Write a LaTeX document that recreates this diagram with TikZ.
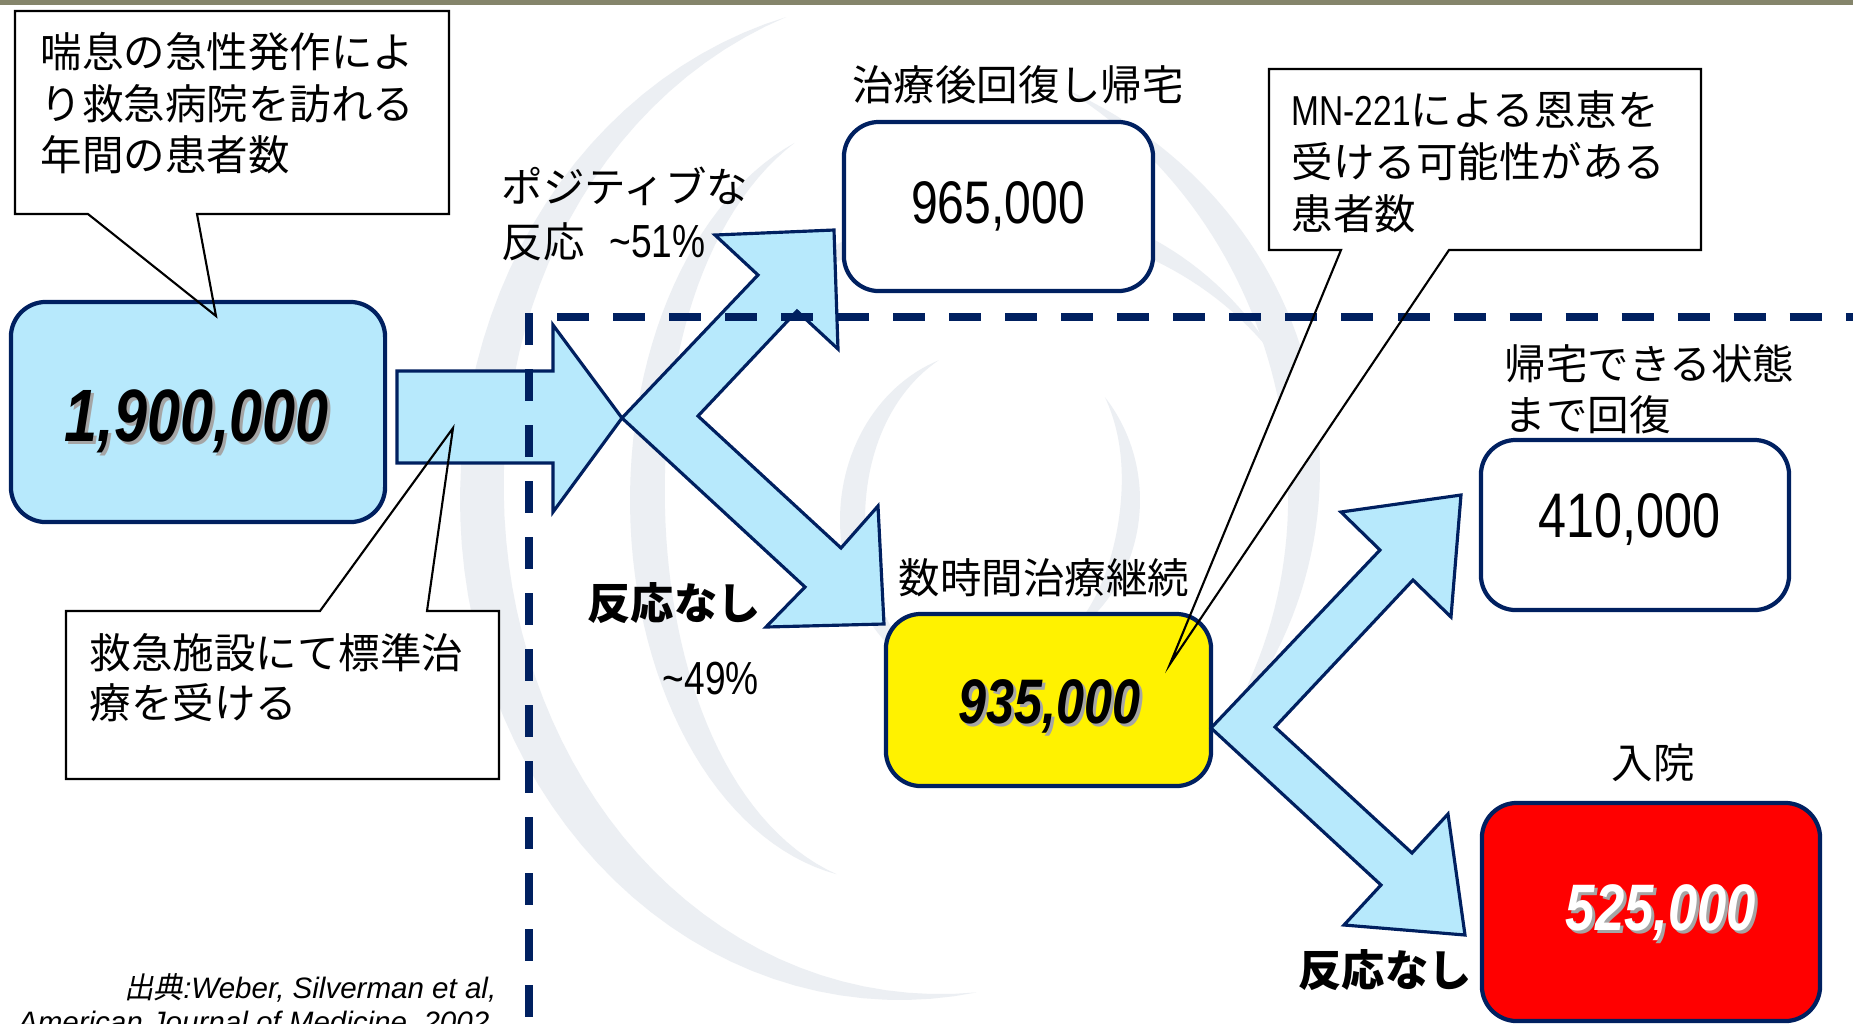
\documentclass[tikz,border=0pt]{standalone}
\usepackage{fontspec}
\setmainfont{Noto Sans CJK JP}
\newfontfamily\numf[FakeStretch=0.8]{Liberation Sans}
\newfontfamily\latf{Liberation Sans}
\newfontfamily\jpslant[FakeSlant=0.2]{Noto Sans CJK JP}
\definecolor{lblue}{RGB}{183,233,252}
\definecolor{navy}{RGB}{0,32,96}
\definecolor{swirl}{RGB}{236,239,243}
\definecolor{topbar}{RGB}{133,133,107}
\definecolor{shadowgrey}{RGB}{165,165,165}
\newcommand\crescent[7]{%
  \fill[swirl] plot[domain=#5:#6, samples=60, variable=\ang] ({#1+#3*cos(\ang)},{#2+#4*sin(\ang)})
   -- plot[domain=#6:#5, samples=60, variable=\ang] ({#1+(#3-#7*sin((\ang-(#5))/((#6)-(#5))*180))*cos(\ang)},{#2+(#4-#7*sin((\ang-(#5))/((#6)-(#5))*180))*sin(\ang)}) -- cycle;}
\tikzset{
  rbox/.style={draw=navy, line width=1.2pt, rounded corners=0.35cm, inner sep=0pt},
  barrow/.style={fill=lblue, draw=navy, line width=0.9pt, line join=miter},
  calloutline/.style={draw=black, line width=0.6pt, line join=miter},
  jt/.style={inner sep=0pt, font=\fontsize{11.8}{14}\selectfont},
  jb/.style={inner sep=0pt, font=\bfseries\fontsize{12.3}{14}\selectfont},
  dashline/.style={draw=navy, line width=2pt, dash pattern=on 0.32cm off 0.24cm},
}
\begin{document}
\begin{tikzpicture}[x=0.01cm, y=-0.01cm]
\clip (0,0) rectangle (1853,1023);
\fill[white] (0,0) rectangle (1853,1023);
\fill[topbar] (0,0) rectangle (1853,5);
% background swirl
\crescent{900}{500}{440}{500}{80}{255}{45}
\crescent{880}{470}{440}{420}{-65}{40}{35}
\crescent{880}{500}{250}{380}{100}{250}{35}
\crescent{1000}{520}{320}{320}{215}{330}{25}
\crescent{990}{520}{150}{170}{110}{250}{25}
\crescent{990}{500}{150}{160}{-40}{60}{20}
% callout tips
\coordinate (tipA) at (216,316);
\coordinate (tipB) at (1170,664);
\coordinate (tipC) at (453,428);
% callout fills
\fill[white] (15,11) -- (449,11) -- (449,214) -- (197,214) -- (tipA) -- (88,214) -- (15,214) -- cycle;
\fill[white] (66,611) -- (320,611) -- (tipC) -- (427,611) -- (499,611) -- (499,779) -- (66,779) -- cycle;
\fill[white] (1269,69) -- (1701,69) -- (1701,250) -- (1449,250) -- (tipB) -- (1341,250) -- (1269,250) -- cycle;
% boxes
\node[rbox, fill=lblue, minimum width=3.74cm, minimum height=2.2cm] (b1) at (198,412) {};
\node[rbox, fill=white, minimum width=3.09cm, minimum height=1.69cm] (b965) at (998.5,206.5) {};
\node[rbox, fill=yellow, minimum width=3.25cm, minimum height=1.72cm] (b935) at (1048.5,700) {};
\node[rbox, fill=white, minimum width=3.08cm, minimum height=1.70cm] (b410) at (1635,525) {};
\node[rbox, fill=red, minimum width=3.38cm, minimum height=2.18cm] (b525) at (1651,912) {};
% block arrows
\draw[barrow] (397,371) -- (553,371) -- (553,325) -- (622,418) -- (553,512) -- (553,463) -- (397,463) -- cycle;
\draw[barrow] (622,418) -- (758,275) -- (715,235) -- (834,230) -- (838,349) -- (797,311) -- (698,416) -- (841,548) -- (878,506) -- (884,624) -- (766,627) -- (805,587) -- cycle;
\draw[barrow] (1211,728) -- (1380,550) -- (1341,512) -- (1461,495) -- (1451,617) -- (1413,580) -- (1275,727) -- (1412,853) -- (1448,814) -- (1465,935) -- (1344,925) -- (1381,885) -- cycle;
% dashed boundary
\draw[dashline] (529,313) -- (529,1023);
\draw[dashline] (557,317) -- (1853,317);
% callout outlines
\draw[calloutline] (15,11) -- (449,11) -- (449,214) -- (197,214) -- (tipA) -- (88,214) -- (15,214) -- cycle;
\draw[calloutline] (66,611) -- (320,611) -- (tipC) -- (427,611) -- (499,611) -- (499,779) -- (66,779) -- cycle;
\draw[calloutline] (1269,69) -- (1701,69) -- (1701,250) -- (1449,250) -- (tipB) -- (1341,250) -- (1269,250) -- cycle;
% callout texts
\node[jt, anchor=base west] (tA1) at (40,67) {喘息の急性発作によ};
\node[jt, anchor=base west] (tA2) at (40,119) {り救急病院を訪れる};
\node[jt, anchor=base west] (tA3) at (40,170) {年間の患者数};
\node[jt, anchor=base west] (tC1) at (89,668) {救急施設にて標準治};
\node[jt, anchor=base west] (tC2) at (89,718) {療を受ける};
\node[jt, anchor=base west] (tB1) at (1291,125) {{\numf\fontsize{11.9}{14}\selectfont MN-221}による恩恵を};
\node[jt, anchor=base west] (tB2) at (1291,177) {受ける可能性がある};
\node[jt, anchor=base west] (tB3) at (1291,229) {患者数};
% labels
\node[jt, anchor=base] (l965) at (1018,100) {治療後回復し帰宅};
\node[jt, anchor=base west] (lpos1) at (501,202) {ポジティブな};
\node[jt, anchor=base west] (lpos2) at (501,257) {反応\hspace{7pt}{\numf\fontsize{13.2}{14}\selectfont\textasciitilde51\%}};
\node[jb, anchor=base west] (lneg1) at (587,619) {反応なし};
\node[inner sep=0pt, anchor=base west, font=\numf\fontsize{13.2}{14}\selectfont] (lneg1p) at (662,694) {\textasciitilde49\%};
\node[jt, anchor=base] (l935) at (1044,593) {数時間治療継続};
\node[jt, anchor=base west] (l410a) at (1504,379) {帰宅できる状態};
\node[jt, anchor=base west] (l410b) at (1504,430) {まで回復};
\node[jt, anchor=base] (l525) at (1653,778) {入院};
\node[jb, anchor=base west] (lneg2) at (1298,986) {反応なし};
% numbers
\node[inner sep=0pt, anchor=base, text=shadowgrey, font=\numf\bfseries\itshape\fontsize{21.1}{25}\selectfont] (n1s) at (200,444) {1,900,000};
\node[inner sep=0pt, anchor=base, text=black, font=\numf\bfseries\itshape\fontsize{21.1}{25}\selectfont] (n1) at (197,441) {1,900,000};
\node[inner sep=0pt, anchor=base, text=shadowgrey, font=\numf\bfseries\itshape\fontsize{17.9}{22}\selectfont] (n935s) at (1053,726) {935,000};
\node[inner sep=0pt, anchor=base, text=black, font=\numf\bfseries\itshape\fontsize{17.9}{22}\selectfont] (n935) at (1050,723) {935,000};
\node[inner sep=0pt, anchor=base, text=shadowgrey, font=\numf\bfseries\itshape\fontsize{18.7}{22}\selectfont] (n525s) at (1664,933) {525,000};
\node[inner sep=0pt, anchor=base, text=white, font=\numf\bfseries\itshape\fontsize{18.7}{22}\selectfont] (n525) at (1661,930) {525,000};
\node[inner sep=0pt, anchor=base, font=\numf\fontsize{17.1}{20}\selectfont] (n965) at (998,223) {965,000};
\node[inner sep=0pt, anchor=base, font=\numf\fontsize{17.9}{20}\selectfont] (n410) at (1630,537) {410,000};
% citation
\node[inner sep=0pt, anchor=base east, font=\fontsize{8.4}{10}\selectfont] (cit1) at (497,998) {{\jpslant 出典}{\latf\itshape :Weber, Silverman et al,}};
\node[inner sep=0pt, anchor=base east, font=\latf\itshape\fontsize{8.4}{10}\selectfont] (cit2) at (490,1032) {American Journal of Medicine, 2002};
\end{tikzpicture}
\end{document}
